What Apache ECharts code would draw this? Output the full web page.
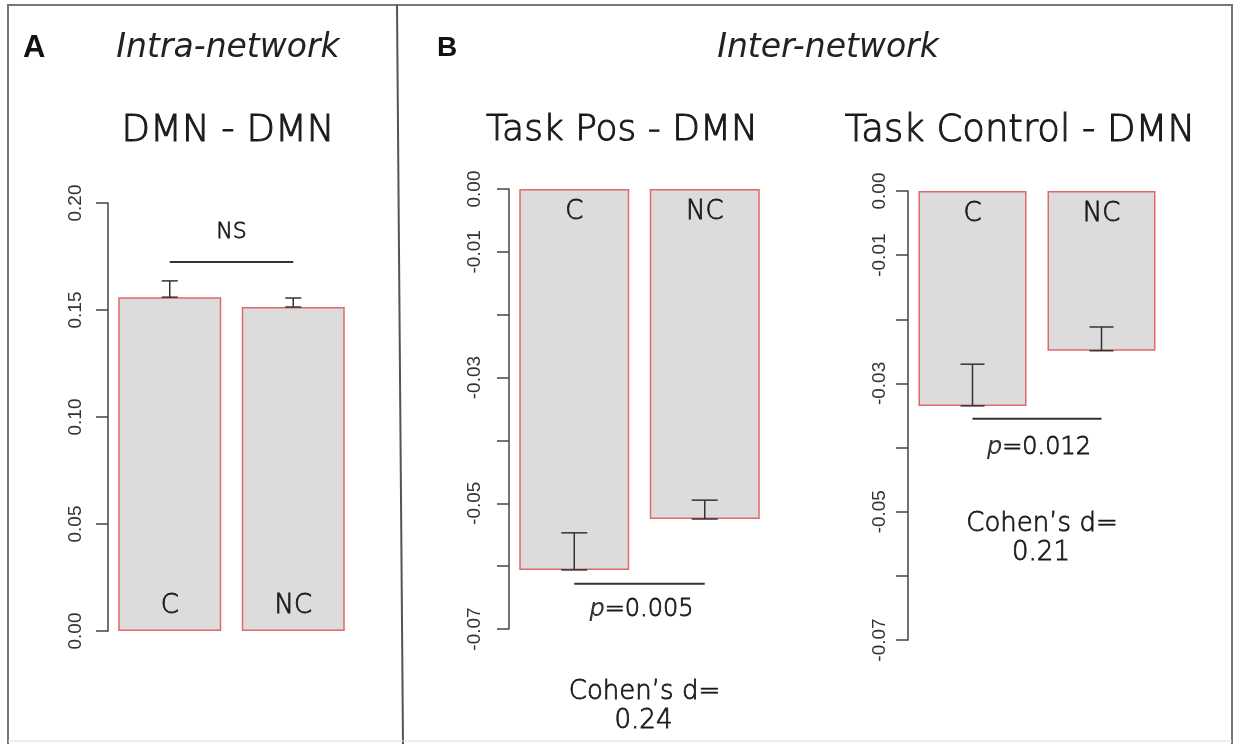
<!DOCTYPE html>
<html>
<head>
<meta charset="utf-8">
<script src="https://cdn.jsdelivr.net/npm/echarts@6/dist/echarts.min.js"></script>
<style>
html,body{margin:0;padding:0;background:#fff;}
#main{width:1233px;height:744px;}
</style>
</head>
<body>
<div id="main"></div>
<script>
// ---- data ----
const categories = ['C', 'NC'];
const panelTitles = ['DMN - DMN', 'Task Pos - DMN', 'Task Control - DMN'];
const sectionTitles = ['Intra-network', 'Inter-network'];
const panelLetters = ['A', 'B'];

const dmnMean = [0.156, 0.1514];
const dmnErr = [0.1636, 0.1556];
const taskPosMean = [-0.0606, -0.0525];
const taskPosErr = [-0.0547, -0.0495];
const taskCtrlMean = [-0.0335, -0.0249];
const taskCtrlErr = [-0.0270, -0.0212];

const axisMin = [0, -0.07, -0.07];
const axisMax = [0.20, 0, 0];
const axisStep = [0.05, 0.01, 0.01];
const hiddenTicks = [[], ['-0.02', '-0.04', '-0.06'], ['-0.02', '-0.04', '-0.06']];

const sigLevel = [0.1724, -0.0628, -0.0355];
const sigText = ['NS', '0.005', '0.012'];
const cohenD = [null, '0.24', '0.21'];

// ---- layout ----
const FONT = '"DejaVu Sans", sans-serif';
const W = '300 ';
const INK = '#1a1a1a';
const AXFONT = '"Liberation Sans", Arial, sans-serif';
const grids = [
  {left: 108, width: 247, top: 203, height: 428},
  {left: 509, width: 261, top: 189, height: 440},
  {left: 908, width: 258, top: 191, height: 449}
];
const barWidths = [103, 110, 108];
const capWidths = [16, 26, 24];
const labelMargins = [23, 25, 19];
const means = [dmnMean, taskPosMean, taskCtrlMean];
const errs = [dmnErr, taskPosErr, taskCtrlErr];

const fmt = v => (Math.abs(v) < 1e-9 ? 0 : v).toFixed(2);

const xAxis = [], yAxis = [], series = [];
grids.forEach((g, i) => {
  xAxis.push({type: 'category', gridIndex: i, data: categories, show: false});
  yAxis.push({
    type: 'value', gridIndex: i, min: axisMin[i], max: axisMax[i], interval: axisStep[i],
    axisLine: {show: true, lineStyle: {color: '#444', width: 1.5}},
    axisTick: {show: true, length: 12, lineStyle: {color: '#444', width: 1.5}},
    splitLine: {show: false},
    axisLabel: {
      rotate: 90, margin: labelMargins[i], color: '#333', fontSize: 19, fontFamily: AXFONT,
      formatter: v => { const s = fmt(v); return hiddenTicks[i].indexOf(s) >= 0 ? '' : s; }
    }
  });
  series.push({
    type: 'bar', xAxisIndex: i, yAxisIndex: i, barWidth: barWidths[i],
    data: means[i],
    itemStyle: {color: '#dcdcdc', borderColor: '#e06868', borderWidth: 1.5},
    label: {
      show: true, formatter: '{b}', position: i === 0 ? 'insideBottom' : 'insideTop',
      distance: i === 0 ? 12 : 10, fontSize: 26, fontWeight: 300, fontFamily: FONT, color: INK,
      textBorderColor: INK, textBorderWidth: 0.8
    },
    silent: true, animation: false
  });
  const cw = capWidths[i];
  series.push({
    type: 'custom', xAxisIndex: i, yAxisIndex: i,
    data: means[i].map((m, k) => [k, m, errs[i][k]]),
    encode: {x: 0, y: [1, 2]},
    renderItem: (params, api) => {
      const a = api.coord([api.value(0), api.value(1)]);
      const b = api.coord([api.value(0), api.value(2)]);
      const st = {stroke: '#333', lineWidth: 1.5};
      return {type: 'group', children: [
        {type: 'line', shape: {x1: a[0], y1: a[1], x2: b[0], y2: b[1]}, style: st},
        {type: 'line', shape: {x1: a[0] - cw / 2, y1: a[1], x2: a[0] + cw / 2, y2: a[1]}, style: st},
        {type: 'line', shape: {x1: b[0] - cw / 2, y1: b[1], x2: b[0] + cw / 2, y2: b[1]}, style: st}
      ]};
    },
    silent: true, animation: false, z: 5
  });
  series.push({
    type: 'custom', xAxisIndex: i, yAxisIndex: i,
    data: [[0, 1, sigLevel[i]]],
    encode: {x: [0, 1], y: 2},
    renderItem: (params, api) => {
      const a = api.coord([api.value(0), api.value(2)]);
      const b = api.coord([api.value(1), api.value(2)]);
      const cx = (a[0] + b[0]) / 2;
      const thick = {stroke: INK, lineWidth: 0.8};
      const children = [
        {type: 'line', shape: {x1: a[0], y1: a[1], x2: b[0], y2: b[1]}, style: {stroke: '#333', lineWidth: 2}}
      ];
      if (i === 0) {
        children.push({type: 'text', x: cx, y: a[1] - 30, style: Object.assign({
          text: sigText[i], fill: INK, font: W + '22px ' + FONT, align: 'center', verticalAlign: 'middle'}, thick)});
      } else {
        children.push({type: 'text', x: cx + 2, y: a[1] + (i === 1 ? 26 : 29), style: Object.assign({
          text: '{i|p}=' + sigText[i], fill: INK, font: W + '24px ' + FONT, align: 'center', verticalAlign: 'middle',
          rich: {i: {fontStyle: 'italic', fontWeight: 300, fontSize: 24, fontFamily: FONT, fill: '#333', lineWidth: 0}}}, thick)});
        const dy = i === 1 ? 109 : 106;
        children.push({type: 'text', x: cx + 5, y: a[1] + dy, style: Object.assign({
          text: 'Cohen\u2019s d=', fill: INK, font: W + '26px ' + FONT, align: 'center', verticalAlign: 'middle'}, thick)});
        children.push({type: 'text', x: cx + 4, y: a[1] + dy + 29, style: Object.assign({
          text: cohenD[i], fill: INK, font: W + '26px ' + FONT, align: 'center', verticalAlign: 'middle'}, thick)});
      }
      return {type: 'group', children};
    },
    silent: true, animation: false, z: 6
  });
});

const txt = (x, y, text, size, opts) => Object.assign({
  type: 'text', x, y, silent: true,
  style: Object.assign({text, fill: INK, stroke: INK, lineWidth: 1, font: W + size + 'px ' + FONT, align: 'center', verticalAlign: 'middle'}, opts || {})
});

const graphic = [
  // frame
  {type: 'polyline', silent: true, shape: {points: [[8, 744], [8, 5], [1232, 5], [1232, 744]]}, style: {stroke: '#777', lineWidth: 2, fill: null}},
  {type: 'line', silent: true, shape: {x1: 397, y1: 5, x2: 403, y2: 744}, style: {stroke: '#555', lineWidth: 2}},
  {type: 'line', silent: true, shape: {x1: 8, y1: 741, x2: 1232, y2: 741}, style: {stroke: '#ddd', lineWidth: 1}},
  // letters
  {type: 'text', x: 23, y: 48, silent: true, style: {text: panelLetters[0], fill: '#111', font: 'bold 31px "Liberation Sans", Arial, sans-serif', verticalAlign: 'middle'}},
  {type: 'text', x: 437, y: 48, silent: true, style: {text: panelLetters[1], fill: '#111', font: 'bold 28px "Liberation Sans Narrow", "Liberation Sans", sans-serif', verticalAlign: 'middle'}},
  txt(228, 48, sectionTitles[0], 33, {font: 'italic ' + W + '33px ' + FONT, fill: '#222', lineWidth: 0}),
  txt(828, 48, sectionTitles[1], 33, {font: 'italic ' + W + '33px ' + FONT, fill: '#222', lineWidth: 0}),
  txt(228, 131, panelTitles[0], 37),
  txt(622, 131, panelTitles[1], 36),
  txt(1020, 131, panelTitles[2], 37)
];

const chart = echarts.init(document.getElementById('main'), null, {renderer: 'canvas'});
chart.setOption({
  backgroundColor: '#fff',
  animation: false,
  grid: grids,
  xAxis, yAxis, series, graphic
});
</script>
</body>
</html>
